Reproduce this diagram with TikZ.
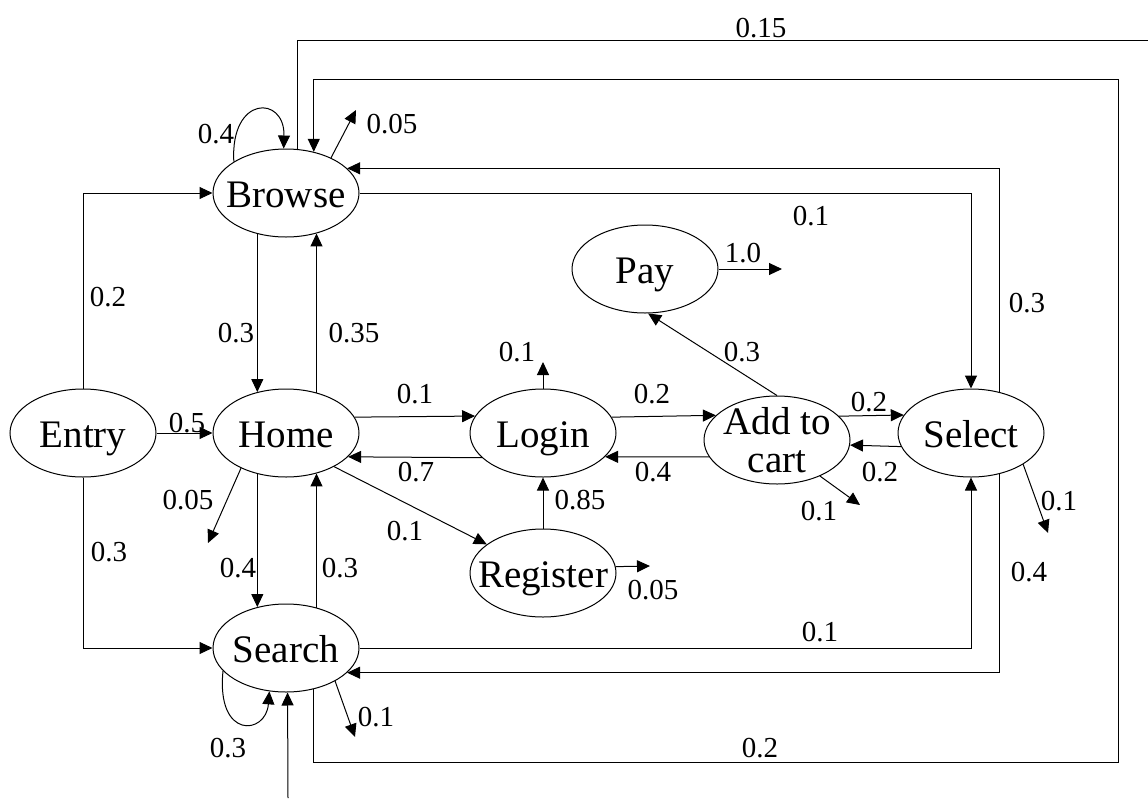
\documentclass[tikz,border=0pt]{standalone}
\usepackage{fontspec}
\setmainfont{Liberation Serif}
\usetikzlibrary{shapes.geometric,arrows.meta}
\begin{document}
\begin{tikzpicture}[x=1pt,y=-1pt,
  state/.style={ellipse,draw,line width=1pt,minimum width=146pt,minimum height=88pt,inner sep=0pt,
    label={[font=\fontsize{39}{38}\selectfont,text height=28pt,text depth=0pt,inner sep=0pt]center:#1}},
  cartstate/.style={ellipse,draw,line width=1pt,minimum width=146pt,minimum height=88pt,inner sep=0pt,
    label={[font=\fontsize{39}{38}\selectfont,align=center,inner sep=0pt]center:#1}},
  edge/.style={line width=1pt,-{Triangle[length=13pt,width=12pt]}},
  wire/.style={line width=1pt},
  lbl/.style={font=\fontsize{29}{29}\selectfont,inner sep=0pt}]
\useasboundingbox (0,0) rectangle (1148,798);

% states
\node[state=Entry]              (Entry)    at (83,433)  {};
\node[state=Browse]             (Browse)   at (286,193) {};
\node[state=Home]               (Home)     at (286,433) {};
\node[state=Search]             (Search)   at (286,648) {};
\node[state=Login]              (Login)    at (543,433) {};
\node[state=Register]           (Register) at (543,573) {};
\node[cartstate={Add to\\cart}] (Cart)     at (777,440) {};
\node[state=Pay]                (Pay)      at (645,269) {};
\node[state=Select]             (Select)   at (971,433) {};

% free ends (exits and the entry from below)
\coordinate (xBrowse) at (356,110);
\coordinate (xHome)   at (208,543);
\coordinate (xLogin)  at (543,362);
\coordinate (xReg)    at (650,566);
\coordinate (xCart)   at (860,505);
\coordinate (xPay)    at (782,269);
\coordinate (xSelect) at (1048,533);
\coordinate (xSearch) at (355,737);
\coordinate (inSearch) at (288,798);
\coordinate (outBrowse) at (1148,40);
\coordinate (loopSE) at (1118,762);
\coordinate (loopNE) at (1118,79);

% from Entry
\draw[edge] (Entry.east) -- (Home.west) node[lbl] at (187,423) {0.5};
\draw[edge] (Entry.north) |- (Browse.west) node[lbl] at (108,297) {0.2};
\draw[edge] (Entry.south) |- (Search.west) node[lbl] at (109,552) {0.3};

% Browse
\draw[edge] (Browse.149) .. controls (230,95) and (285,95) .. (Browse.93) node[lbl] at (216,134) {0.4};
\draw[edge] (Browse.38) -- (xBrowse) node[lbl] at (392,124) {0.05};
\draw[edge] (Browse.-125.7) -- (Home.125.7) node[lbl] at (236,333) {0.3};
\draw[edge] (Browse.east) -| (Select.north) node[lbl] at (811,216) {0.1};
\draw[wire] (Browse.75.8) |- (outBrowse) node[lbl] at (761,28) {0.15};

% Home
\draw[edge] (Home.53.2) -- (Browse.-53.2) node[lbl] at (354,333) {0.35};
\draw[edge] (Home.-125.7) -- (Search.125.7) node[lbl] at (238,568) {0.4};
\draw[edge] (Home.13.2) -- (Login.166.8) node[lbl] at (415,394) {0.1};
\draw[edge] (Home.-35) -- (Register.153) node[lbl] at (405,531) {0.1};
\draw[edge] (Home.-142.6) -- (xHome) node[lbl] at (188,500) {0.05};

% Search
\draw[edge] (Search.53.2) -- (Home.-53.2) node[lbl] at (340,568) {0.3};
\draw[edge] (Search.-160) .. controls (216,740) and (266,735) .. (Search.-111) node[lbl] at (228,748) {0.3};
\draw[edge] (Search.-34.5) -- (xSearch) node[lbl] at (376,717) {0.1};
\draw[edge] (Search.east) -| (Select.south) node[lbl] at (820,632) {0.1};
\draw[edge] (Search.-56.6) |- (loopSE) -- (loopNE) -| (Browse.56.6) node[lbl] at (760,748) {0.2};
\draw[edge] (inSearch) -- (Search.-88);

% Login and Register
\draw[edge] (Login.-158.6) -- (Home.-21.4) node[lbl] at (416,472) {0.7};
\draw[edge] (Login.north) -- (xLogin) node[lbl] at (517,352) {0.1};
\draw[edge] (Login.13.2) -- (Cart.158.6) node[lbl] at (652,394) {0.2};
\draw[edge] (Register.north) -- (Login.south) node[lbl] at (580,500) {0.85};
\draw[edge] (Register.5) -- (xReg) node[lbl] at (653,590) {0.05};

% Add to cart and Pay
\draw[edge] (Cart.-166.8) -- (Login.-21.4) node[lbl] at (653,472) {0.4};
\draw[edge] (Cart.21.4) -- (Select.165.8) node[lbl] at (869,402) {0.2};
\draw[edge] (Cart.-40) -- (xCart) node[lbl] at (819,511) {0.1};
\draw[edge] (Cart.north) -- (Pay.-86) node[lbl] at (742,352) {0.3};
\draw[edge] (Pay.east) -- (xPay) node[lbl] at (743,253) {1.0};

% Select
\draw[edge] (Select.-169.4) -- (Cart.-4.7) node[lbl] at (880,472) {0.2};
\draw[edge] (Select.-31.6) -- (xSelect) node[lbl] at (1059,501) {0.1};
\draw[edge] (Select.55.4) |- (Browse.22.6) node[lbl] at (1027,303) {0.3};
\draw[edge] (Select.-55.4) |- (Search.-22.6) node[lbl] at (1029,572) {0.4};
\end{tikzpicture}
\end{document}
